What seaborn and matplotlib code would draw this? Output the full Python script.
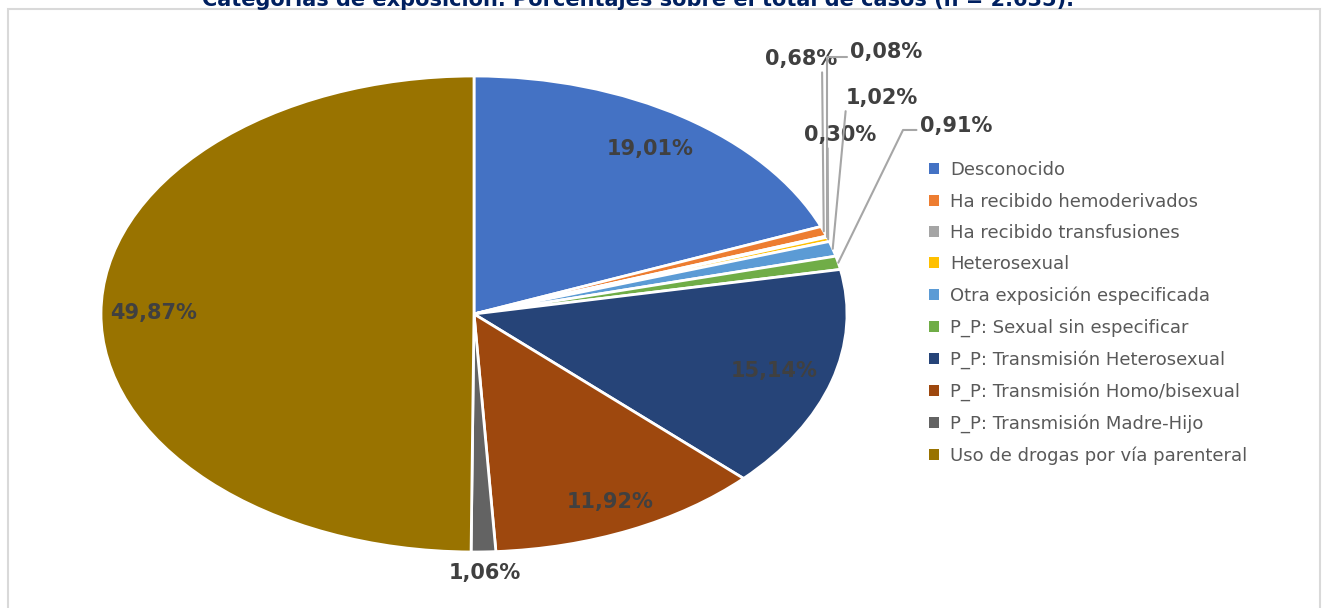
import matplotlib
matplotlib.use("Agg")
import matplotlib.pyplot as plt
import matplotlib.patches as mpatches
import seaborn as sns
import numpy as np

# data
categories = ['Desconocido', 'Ha recibido hemoderivados', 'Ha recibido transfusiones',
              'Heterosexual', 'Otra exposición especificada', 'P_P: Sexual sin especificar',
              'P_P: Transmisión Heterosexual', 'P_P: Transmisión Homo/bisexual',
              'P_P: Transmisión Madre-Hijo', 'Uso de drogas por vía parenteral']
percentages = [19.01, 0.68, 0.08, 0.30, 1.02, 0.91, 15.14, 11.92, 1.06, 49.87]
pct_labels = ['19,01%', '0,68%', '0,08%', '0,30%', '1,02%', '0,91%',
              '15,14%', '11,92%', '1,06%', '49,87%']
slice_colors = ['#4472C4', '#ED7D31', '#A5A5A5', '#FFC000', '#5B9BD5',
                '#70AD47', '#264478', '#9E480E', '#636363', '#997300']

title = 'Categorías de exposición. Porcentajes sobre el total de casos (n = 2.635).'

sns.set_theme(style="white")
plt.rcParams['font.family'] = ['DejaVu Sans']

fig = plt.figure(figsize=(13.3, 6.08), dpi=100)
W, H = 1330, 608

# light grey chart-area frame
fig.patches.append(mpatches.Rectangle((8 / W, -0.05), 1312 / W, 1 - 9 / H + 0.05,
                                      transform=fig.transFigure, fill=False,
                                      edgecolor='#D9D9D9', linewidth=1.5))

# title sits partly above the top edge, as in the reference
fig.text(638 / W, 1 - 6 / H, title, ha='center', va='baseline',
         fontsize=15, fontweight='bold', color='#002060')

ax = fig.add_axes([101 / W, 56 / H, 746 / W, 476 / H])
wedges, _ = ax.pie(percentages, colors=sns.color_palette(slice_colors), startangle=90,
                   counterclock=False,
                   wedgeprops=dict(edgecolor='white', linewidth=2))
ax.set_aspect('auto')
ax.set_xlim(-1, 1)
ax.set_ylim(-1, 1)
ax.axis('off')

# label placement (layout only)
inner = {'19,01%': 0.84, '15,14%': 0.84, '11,92%': 0.87, '49,87%': 0.86, '1,06%': 1.09}
callouts = {
    '0,68%': dict(xytext=(0.877, 1.071), relpos=(0.79, 0.0), conn='arc3'),
    '0,08%': dict(xytext=(1.105, 1.101), relpos=(0.0, 0.25), conn='angle,angleA=0,angleB=90,rad=0'),
    '0,30%': dict(xytext=(0.981, 0.752), relpos=(0.33, 0.0), conn='arc3'),
    '1,02%': dict(xytext=(1.094, 0.908), relpos=(0.0, 0.0), conn='arc3'),
    '0,91%': dict(xytext=(1.292, 0.790), relpos=(0.0, 0.3), conn='angle,angleA=0,angleB=64,rad=0'),
}

label_color = '#404040'
for w, lab in zip(wedges, pct_labels):
    mid = np.deg2rad((w.theta1 + w.theta2) / 2)
    if lab in inner:
        r = inner[lab]
        ax.text(r * np.cos(mid), r * np.sin(mid), lab, ha='center', va='center',
                fontsize=15, fontweight='bold', color=label_color)
    else:
        c = callouts[lab]
        ax.annotate(lab, xy=(np.cos(mid), np.sin(mid)), xytext=c['xytext'],
                    ha='center', va='center', fontsize=15, fontweight='bold',
                    color=label_color, annotation_clip=False,
                    arrowprops=dict(arrowstyle='-', color='#A6A6A6', lw=1.5,
                                    relpos=c['relpos'], connectionstyle=c['conn'],
                                    shrinkA=0, shrinkB=0))

handles = [mpatches.Patch(facecolor=col, edgecolor='none') for col in slice_colors]
leg = fig.legend(handles, categories, loc='upper left',
                 bbox_to_anchor=(922 / W, 1 - 154 / H), frameon=False,
                 fontsize=13, handlelength=0.55, handleheight=0.55,
                 handletextpad=0.6, labelspacing=0.74, borderaxespad=0)
for t in leg.get_texts():
    t.set_color('#595959')

fig.savefig('out.png', dpi=100)
